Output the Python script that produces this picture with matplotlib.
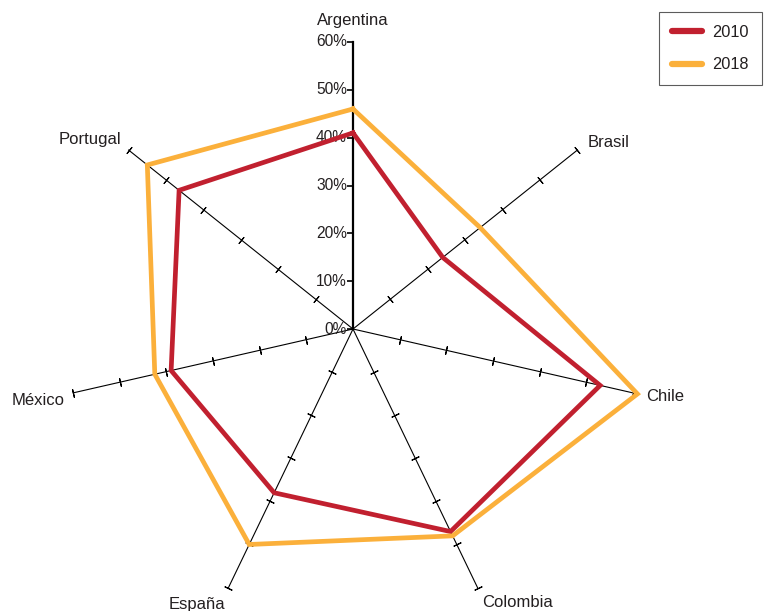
import matplotlib
matplotlib.use("Agg")
import matplotlib.pyplot as plt
import numpy as np

# Data (share in %)
countries = ["Argentina", "Brasil", "Chile", "Colombia", "España", "México", "Portugal"]
values_2010 = [41, 24, 53, 47, 38, 39, 46.5]
values_2018 = [46, 34, 61, 48, 50, 42.5, 55]
r_ticks = [0, 10, 20, 30, 40, 50, 60]
r_tick_labels = ["0%", "10%", "20%", "30%", "40%", "50%", "60%"]

RED = "#c1202f"
ORANGE = "#fbb03b"
TEXT = "#231f20"

plt.rcParams["font.family"] = ["Liberation Sans", "DejaVu Sans"]

fig = plt.figure(figsize=(7.65, 6.11), dpi=100)
# centre at (353, 329) px, 60% radius = 287 px
rmax = 62
R = 287 * rmax / 60
ax = fig.add_axes([(353 - R) / 765, (282 - R) / 611, 2 * R / 765, 2 * R / 611],
                  projection="polar")
ax.set_theta_offset(np.pi / 2)
ax.set_theta_direction(-1)
ax.set_ylim(0, rmax)
ax.set_axis_off()

n = len(countries)
theta = 2 * np.pi * np.arange(n) / n

# spokes with cross ticks
for i, t in enumerate(theta):
    lw = 1.6 if i == 0 else 0.8
    ax.plot([t, t], [0, 60], color="black", lw=lw, clip_on=False, zorder=1)
    if i == 0:
        ax.plot([t] * len(r_ticks), r_ticks, ls="none", marker=0, ms=4,
                mec="black", mew=1.2, clip_on=False, zorder=1)
    else:
        phi = 90 - np.degrees(t)
        ax.plot([t] * (len(r_ticks) - 1), r_ticks[1:], ls="none",
                marker=(2, 2, phi), ms=6, mec="black", mew=0.8,
                clip_on=False, zorder=1)

# radial labels on the Argentina spoke
for r, lab in zip(r_ticks, r_tick_labels):
    ax.annotate(lab, xy=(0, r), xytext=(-6, 0), textcoords="offset pixels",
                ha="right", va="center", fontsize=11.2, color=TEXT)

# category labels
label_offsets = {
    "Argentina": ((0, 21), "center", "center"),
    "Brasil": ((10, 8), "left", "center"),
    "Chile": ((13, -4), "left", "center"),
    "Colombia": ((5, -15), "left", "center"),
    "España": ((-3, -17), "right", "center"),
    "México": ((-9, -8), "right", "center"),
    "Portugal": ((-7, 11), "right", "center"),
}
for t, name in zip(theta, countries):
    off, ha, va = label_offsets[name]
    ax.annotate(name, xy=(t, 60), xytext=off, textcoords="offset pixels",
                ha=ha, va=va, fontsize=12, color=TEXT)

# series
tt = np.append(theta, theta[0])
for vals, col, lab in [(values_2010, RED, "2010"), (values_2018, ORANGE, "2018")]:
    ax.plot(tt, np.append(vals, vals[0]), color=col, lw=3.4, label=lab,
            solid_joinstyle="miter", clip_on=False, zorder=3)

leg = fig.legend(loc="upper left", bbox_to_anchor=(659 / 765, 1 - 12 / 611),
                 borderaxespad=0, fancybox=False, frameon=True, fontsize=11.8,
                 handlelength=1.8, handletextpad=0.65, labelspacing=1.05,
                 borderpad=0.8)
leg.get_frame().set_edgecolor("#333333")
leg.get_frame().set_linewidth(0.8)
for h in leg.legend_handles:
    h.set_linewidth(4.5)
    h.set_solid_capstyle("round")
for txt in leg.get_texts():
    txt.set_color(TEXT)

fig.savefig("out.png", dpi=100)
